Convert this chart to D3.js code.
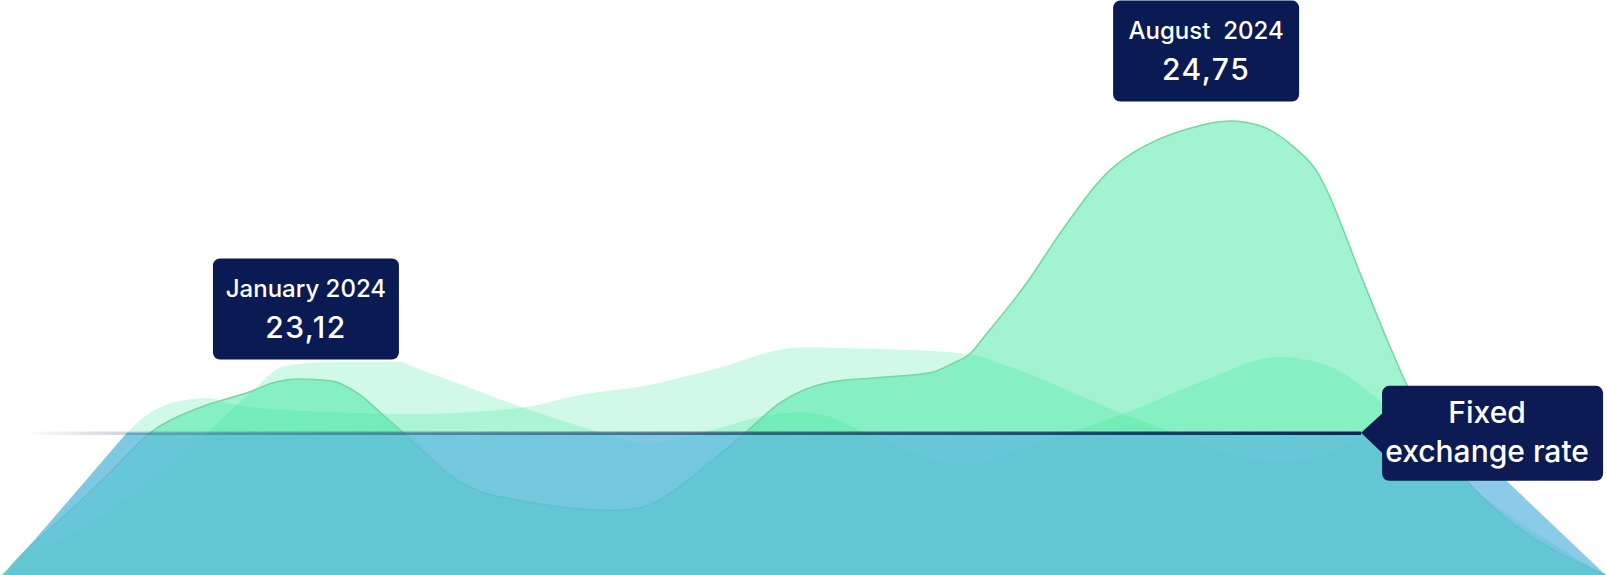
<!DOCTYPE html>
<html>
<head>
<meta charset="utf-8">
<script src="https://cdn.jsdelivr.net/npm/d3@7"></script>
<style>
  html, body { margin: 0; padding: 0; background: #fff; }
  svg { display: block; }
  .tag text { font-family: Inter, "Noto Sans", sans-serif; fill: #fff; font-weight: 500; }
</style>
</head>
<body>
<svg id="chartArea" width="1606" height="575"></svg>
<script>
// timeline runs 0..100, values are exchange rates
const baseRate = 21.88;
const fixedRate = 22.78;

const fixedT = [0.25, 7.91, 90.66, 100];
const fixedV = [baseRate, fixedRate, fixedRate, baseRate];

// market rate (the one with the labelled peaks)
const marketT = [0.19, 1.25, 4.17, 6.85, 9.34, 12.45, 15.57, 17.12, 18.68, 20.55, 22.42, 23.66, 24.91, 28.83, 29.89, 31.94,
    38.17, 40.29, 41.72, 44.40, 46.51, 48.57, 49.81, 51.68, 54.79, 57.91, 59.34, 60.40, 61.46, 63.95, 66.00,
    69.12, 70.55, 71.42, 74.28, 76.59, 78.46, 80.51, 82.07, 82.63, 84.68, 86.36, 87.61, 89.66, 92.15, 100];
const marketV = [21.88, 22.00, 22.27, 22.53, 22.78, 22.94, 23.04, 23.10, 23.12, 23.11, 23.02, 22.91, 22.80, 22.46, 22.41, 22.36,
    22.29, 22.32, 22.40, 22.61, 22.79, 22.97, 23.04, 23.10, 23.13, 23.16, 23.22, 23.28, 23.41, 23.73, 24.04,
    24.44, 24.55, 24.60, 24.71, 24.75, 24.72, 24.59, 24.42, 24.31, 23.79, 23.37, 23.08, 22.68, 22.39, 21.88];

// two lighter bands behind it
const bandAT = [0.25, 2.0, 4.0, 6.0, 7.91, 8.72, 9.96, 11.64, 12.89, 14.51, 20.73, 26.15, 30.51, 32.57, 36.11, 40.29, 44.40,
    49.81, 54.79, 60.21, 63.08, 69.93, 72.85, 76.59, 79.70, 82.81, 85.12, 88.42, 92.15, 100];
const bandAV = [21.88, 22.09, 22.32, 22.56, 22.78, 22.86, 22.94, 22.99, 23.00, 22.96, 22.91, 22.90, 22.92, 22.94, 23.02, 23.08, 23.18,
    23.32, 23.31, 23.28, 23.19, 22.90, 22.79, 22.65, 22.60, 22.65, 22.75, 22.67, 22.39, 21.88];

const bandBT = [0, 1.25, 5.17, 9.96, 12.89, 15.75, 17.62, 20.73, 24.72, 26.15, 32.57, 37.17, 40.29, 42.34, 44.40,
    47.76, 49.81, 51.06, 53.74, 59.96, 65.19, 69.93, 74.72, 79.70, 82.81, 85.12, 88.42, 92.15, 100];
const bandBV = [21.88, 21.98, 22.18, 22.53, 22.78, 23.05, 23.20, 23.23, 23.23, 23.18, 22.94, 22.79, 22.71, 22.75, 22.80,
    22.89, 22.91, 22.90, 22.79, 22.58, 22.74, 22.90, 23.10, 23.26, 23.20, 23.05, 22.74, 22.39, 21.88];

const tagMonths = ["January 2024", "August  2024"];
const tagValues = ["23,12", "24,75"];
const tagT = [19.05, 75.10];
const tagRate = [23.12, 24.75];
const fixedLabel = ["Fixed", "exchange rate"];
const fixedLabelT = 84.75;

const svg = d3.select("#chartArea");
const width = 1606, height = 575;

const x = d3.scaleLinear().domain([0, 100]).range([0, width]);
const y = d3.scaleLinear().domain([21.882, 25.515]).range([height, 0]);

const toPoints = (ts, vs) => ts.map((t, i) => ({t: t, v: vs[i]}));

const smoothArea = d3.area()
    .x(d => x(d.t))
    .y0(y(baseRate))
    .y1(d => y(d.v))
    .curve(d3.curveMonotoneX);

const straightArea = d3.area()
    .x(d => x(d.t))
    .y0(y(baseRate))
    .y1(d => y(d.v));

const smoothLine = d3.line()
    .x(d => x(d.t))
    .y(d => y(d.v))
    .curve(d3.curveMonotoneX);

const green = "rgb(40,228,145)";
[[bandBT, bandBV, 0.22], [bandAT, bandAV, 0.22], [marketT, marketV, 0.43]].forEach(s => {
    svg.append("path")
        .datum(toPoints(s[0], s[1]))
        .attr("fill", green)
        .attr("fill-opacity", s[2])
        .attr("d", smoothArea);
});

svg.append("path")
    .datum(toPoints(marketT, marketV))
    .attr("fill", "none")
    .attr("stroke", "#72d6a8")
    .attr("stroke-width", 1.5)
    .attr("d", smoothLine);

// fixed rate block
svg.append("path")
    .datum(toPoints(fixedT, fixedV))
    .attr("fill", "rgb(91,181,222)")
    .attr("fill-opacity", 0.7)
    .attr("d", straightArea);

const defs = svg.append("defs");
const grad = defs.append("linearGradient")
    .attr("id", "fixLine")
    .attr("gradientUnits", "userSpaceOnUse")
    .attr("x1", x(1.5)).attr("x2", x(fixedLabelT))
    .attr("y1", 0).attr("y2", 0);
grad.selectAll("stop")
    .data([[0, 0], [0.08, 0.2], [0.45, 0.5], [1, 0.95]])
    .enter().append("stop")
    .attr("offset", d => d[0])
    .attr("stop-color", "#0b1b52")
    .attr("stop-opacity", d => d[1]);

svg.append("line")
    .attr("x1", x(1.5)).attr("x2", x(fixedLabelT))
    .attr("y1", y(fixedRate) + 0.5).attr("y2", y(fixedRate) + 0.5)
    .attr("stroke", "url(#fixLine)")
    .attr("stroke-width", 3.5);

// month tags
const tagW = 186, tagH = 101;
tagMonths.forEach((m, i) => {
    const cx = x(tagT[i]);
    const top = y(tagRate[i]) - 19.5 - tagH;
    const g = svg.append("g").attr("class", "tag");
    g.append("rect")
        .attr("x", cx - tagW / 2).attr("y", top)
        .attr("width", tagW).attr("height", tagH)
        .attr("rx", 7)
        .attr("fill", "#0a1a52");
    g.append("text")
        .attr("x", cx).attr("y", top + 38)
        .attr("text-anchor", "middle")
        .style("font-size", "24px")
        .style("white-space", "pre")
        .text(m);
    g.append("text")
        .attr("x", cx).attr("y", top + 79)
        .attr("text-anchor", "middle")
        .style("font-size", "30px")
        .style("letter-spacing", "1.5px")
        .text(tagValues[i]);
});

// fixed rate tag with pointer
const tipX = x(fixedLabelT), tipY = y(fixedRate);
const fg = svg.append("g").attr("class", "tag");
fg.append("path")
    .attr("d", `M${tipX},${tipY} L${tipX + 23},${tipY - 21} L${tipX + 23},${tipY + 22} Z`)
    .attr("fill", "#0c1b54");
fg.append("rect")
    .attr("x", tipX + 21).attr("y", tipY - 47)
    .attr("width", 221).attr("height", 95)
    .attr("rx", 7)
    .attr("fill", "#0c1b54");
fixedLabel.forEach((t, i) => {
    fg.append("text")
        .attr("x", tipX + 126)
        .attr("y", tipY - 10 + i * 39)
        .attr("text-anchor", "middle")
        .style("font-size", "30px")
        .text(t);
});
</script>
</body>
</html>
